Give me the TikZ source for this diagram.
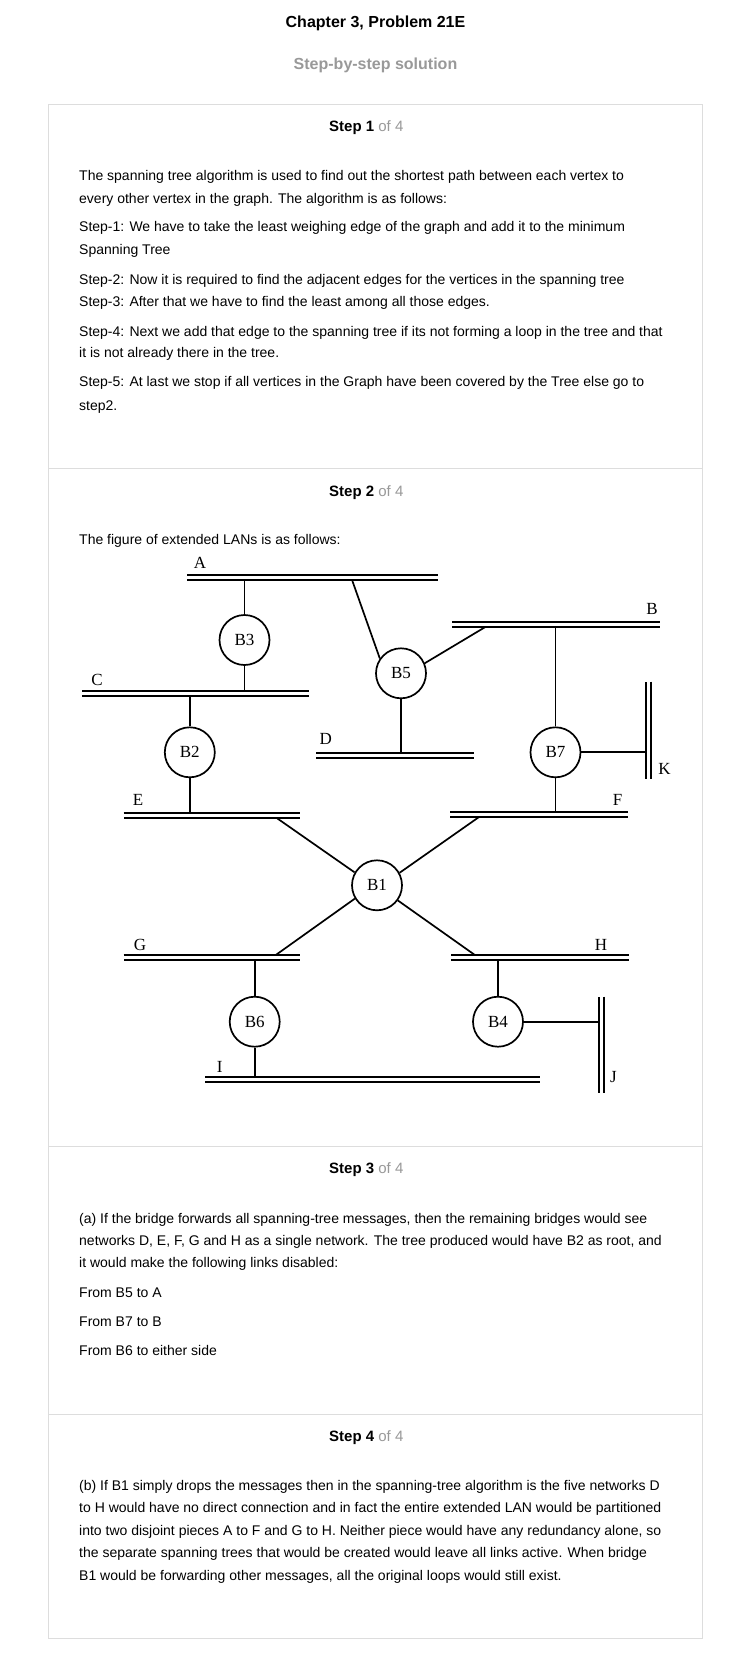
\documentclass[tikz,border=0pt]{standalone}
\usepackage{fontspec}
\setmainfont{Liberation Sans}
\newfontfamily\serifdiag{Liberation Serif}
\definecolor{boxgray}{HTML}{DDDDDD}
\definecolor{subgray}{HTML}{999999}
\begin{document}
\begin{tikzpicture}[x=1pt,y=-1pt,
  txt/.style={anchor=base west,inner sep=0pt,font=\fontsize{14}{16}\selectfont},
  hdr/.style={anchor=base west,inner sep=0pt,font=\fontsize{15}{17}\selectfont},
  ttl/.style={anchor=base,inner sep=0pt,font=\fontsize{16}{18}\selectfont\bfseries},
  bridge/.style={circle,draw,line width=1.7pt,minimum size=50pt,inner sep=0pt,font=\serifdiag\fontsize{17}{19}\selectfont},
  lbl/.style={inner sep=0pt,font=\serifdiag\fontsize{17}{19}\selectfont},
  bus/.style={line width=2pt,double=white,double distance=3pt},
  link/.style={line width=1.7pt},
  panel/.style={draw=boxgray,line width=1pt}
]
\fill[white] (0,0) rectangle (752,1665);
\useasboundingbox (0,0) rectangle (752,1665);

% titles
\node[ttl] (title) at (375.5,27.4) {Chapter 3, Problem 21E};
\node[ttl,text=subgray] (subtitle) at (375.5,69) {Step-by-step solution};

% panel
\draw[panel] (48,104.3) rectangle (702.6,1638.3);
\draw[panel] (48,468.3) -- (702.6,468.3);
\draw[panel] (48,1146.3) -- (702.6,1146.3);
\draw[panel] (48,1414.3) -- (702.6,1414.3);

% step 1
\node[hdr] (h1) at (329,131.4) {\textbf{Step 1} \textcolor{subgray}{of 4}};
\node[txt] (s1a) at (79,180) {The spanning tree algorithm is used to find out the shortest path between each vertex to};
\node[txt] (s1b) at (79,203.3) {every other vertex in the graph. The algorithm is as follows:};
\node[txt] (s1c) at (79,231.7) {Step-1: We have to take the least weighing edge of the graph and add it to the minimum};
\node[txt] (s1d) at (79,254) {Spanning Tree};
\node[txt] (s1e) at (79,284) {Step-2: Now it is required to find the adjacent edges for the vertices in the spanning tree};
\node[txt] (s1f) at (79,306) {Step-3: After that we have to find the least among all those edges.};
\node[txt] (s1g) at (79,336) {Step-4: Next we add that edge to the spanning tree if its not forming a loop in the tree and that};
\node[txt] (s1h) at (79,357.7) {it is not already there in the tree.};
\node[txt] (s1i) at (79,386.7) {Step-5: At last we stop if all vertices in the Graph have been covered by the Tree else go to};
\node[txt] (s1j) at (79,410) {step2.};

% step 2
\node[hdr] (h2) at (329,496.4) {\textbf{Step 2} \textcolor{subgray}{of 4}};
\node[txt] (s2a) at (79,544.3) {The figure of extended LANs is as follows:};

% bus coordinates
\coordinate (Aw) at (187,577);   \coordinate (Ae) at (438,577);
\coordinate (Cw) at (82,693.2);  \coordinate (Ce) at (308.6,693.2);
\coordinate (Ew) at (123.7,815.2); \coordinate (Ee) at (300,815.2);
\coordinate (Bw) at (452,624.8); \coordinate (Be) at (659.6,624.8);
\coordinate (Dw) at (316,755.3); \coordinate (De) at (474,755.3);
\coordinate (Fw) at (450,814.2); \coordinate (Fe) at (627.8,814.2);
\coordinate (Gw) at (123.7,957.2); \coordinate (Ge) at (300.4,957.2);
\coordinate (Hw) at (451.4,957.2); \coordinate (He) at (629,957.2);
\coordinate (Iw) at (205.3,1079.5); \coordinate (Ie) at (540,1079.5);
\coordinate (Kn) at (648.3,681.7); \coordinate (Ks) at (648.3,778.7);
\coordinate (Jn) at (601,996.7);  \coordinate (Js) at (601,1093.3);

% bridges
\node[bridge] (B3) at (244.5,640) {B3};
\node[bridge] (B2) at (189.8,752.3) {B2};
\node[bridge] (B5) at (401,673.3) {B5};
\node[bridge] (B7) at (555.5,752.3) {B7};
\node[bridge] (B1) at (377,885.3) {B1};
\node[bridge] (B6) at (254.7,1021.7) {B6};
\node[bridge] (B4) at (498,1021.7) {B4};

% attach points
\coordinate (A3) at (244.5,577);
\coordinate (A5) at (351,577);
\coordinate (C3) at (244.5,693.2);
\coordinate (C2) at (189.8,693.2);
\coordinate (E2) at (189.8,815.2);
\coordinate (E1) at (272.7,815.2);
\coordinate (B5p) at (489,624.8);
\coordinate (B7p) at (555.5,624.8);
\coordinate (D5) at (401,755.3);
\coordinate (K7) at (648.3,752.3);
\coordinate (F7) at (555.5,814.2);
\coordinate (F1) at (483,814.2);
\coordinate (G1) at (272.7,957.2);
\coordinate (H1) at (478,957.2);
\coordinate (G6) at (254.7,957.2);
\coordinate (I6) at (254.7,1079.5);
\coordinate (H4) at (498,957.2);
\coordinate (J4) at (601,1021.7);

% links
\draw[link] (A3) -- (B3);
\draw[link] (B3) -- (C3);
\draw[link] (C2) -- (B2);
\draw[link] (B2) -- (E2);
\draw[link] (A5) -- (B5.145);
\draw[link] (B5.23) -- (B5p);
\draw[link] (B5) -- (D5);
\draw[link] (B7p) -- (B7);
\draw[link] (B7) -- (K7);
\draw[link] (B7) -- (F7);
\draw[link] (E1) -- (B1.150);
\draw[link] (F1) -- (B1.29);
\draw[link] (G1) -- (B1.211);
\draw[link] (H1) -- (B1.-36);
\draw[link] (G6) -- (B6);
\draw[link] (B6) -- (I6);
\draw[link] (H4) -- (B4);
\draw[link] (B4) -- (J4);

% buses
\draw[bus] (Aw) -- (Ae);
\draw[bus] (Cw) -- (Ce);
\draw[bus] (Ew) -- (Ee);
\draw[bus] (Bw) -- (Be);
\draw[bus] (Dw) -- (De);
\draw[bus] (Fw) -- (Fe);
\draw[bus] (Gw) -- (Ge);
\draw[bus] (Hw) -- (He);
\draw[bus] (Iw) -- (Ie);
\draw[bus] (Kn) -- (Ks);
\draw[bus] (Jn) -- (Js);

% bus labels
\node[lbl] (lA) at (200,563.3) {A};
\node[lbl] (lB) at (652,609) {B};
\node[lbl] (lC) at (97,680) {C};
\node[lbl] (lD) at (325.7,739.3) {D};
\node[lbl] (lE) at (138,800) {E};
\node[lbl] (lF) at (617.5,800) {F};
\node[lbl] (lG) at (140,945) {G};
\node[lbl] (lH) at (601,945) {H};
\node[lbl] (lI) at (219.6,1066.7) {I};
\node[lbl] (lJ) at (613.5,1076.7) {J};
\node[lbl] (lK) at (664.5,769.3) {K};

% step 3
\node[hdr] (h3) at (329,1173.7) {\textbf{Step 3} \textcolor{subgray}{of 4}};
\node[txt] (s3a) at (79,1223.3) {(a) If the bridge forwards all spanning-tree messages, then the remaining bridges would see};
\node[txt] (s3b) at (79,1245.3) {networks D, E, F, G and H as a single network. The tree produced would have B2 as root, and};
\node[txt] (s3c) at (79,1267.3) {it would make the following links disabled:};
\node[txt] (s3d) at (79,1297.3) {From B5 to A};
\node[txt] (s3e) at (79,1326) {From B7 to B};
\node[txt] (s3f) at (79,1355.7) {From B6 to either side};

% step 4
\node[hdr] (h4) at (329,1441.7) {\textbf{Step 4} \textcolor{subgray}{of 4}};
\node[txt] (s4a) at (79,1490.7) {(b) If B1 simply drops the messages then in the spanning-tree algorithm is the five networks D};
\node[txt] (s4b) at (79,1512.3) {to H would have no direct connection and in fact the entire extended LAN would be partitioned};
\node[txt] (s4c) at (79,1535) {into two disjoint pieces A to F and G to H. Neither piece would have any redundancy alone, so};
\node[txt] (s4d) at (79,1557.3) {the separate spanning trees that would be created would leave all links active. When bridge};
\node[txt] (s4e) at (79,1580) {B1 would be forwarding other messages, all the original loops would still exist.};
\end{tikzpicture}
\end{document}
